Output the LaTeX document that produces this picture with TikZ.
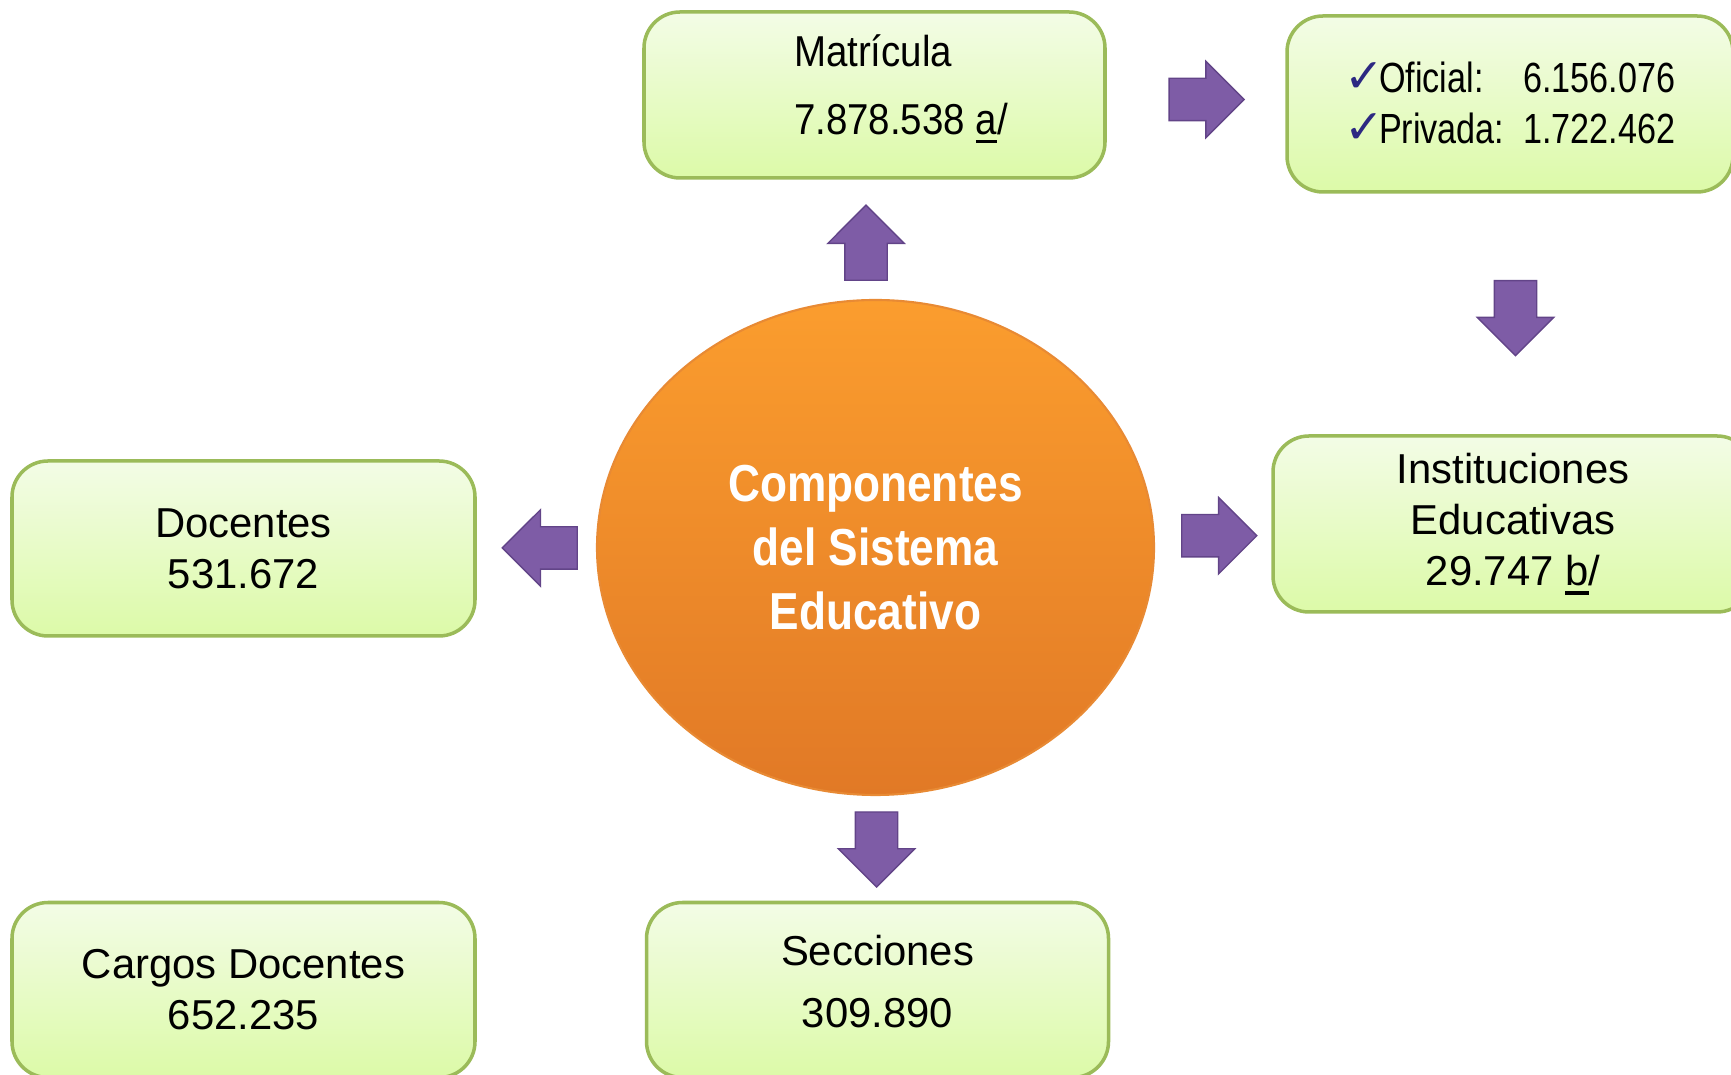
\documentclass[tikz,border=0pt]{standalone}
\usepackage{fontspec}
\setmainfont{Liberation Sans}
\newfontfamily\narrowfont[FakeStretch=0.89]{Liberation Sans}
\newfontfamily\tightfont[FakeStretch=0.81]{Liberation Sans}
\newfontfamily\hubfont[FakeStretch=0.85]{Liberation Sans}
\newfontfamily\checkfont{DejaVu Sans}
\usetikzlibrary{positioning, calc, shapes.geometric, shapes.arrows}
\definecolor{boxedge}{RGB}{155,187,89}
\definecolor{boxtop}{RGB}{243,252,230}
\definecolor{boxbottom}{RGB}{220,250,168}
\definecolor{orangetop}{RGB}{251,157,46}
\definecolor{orangebottom}{RGB}{225,121,38}
\definecolor{orangerim}{RGB}{232,138,52}
\definecolor{arrowpurple}{RGB}{126,92,166}
\definecolor{arrowedge}{RGB}{98,68,136}
\definecolor{checkblue}{RGB}{44,40,130}
\newcommand{\okmark}{{\checkfont\fontsize{13.5}{14}\selectfont\color{checkblue}\char"2713}\kern-1.5pt}
\newcommand{\subrayado}[1]{\setbox0\hbox{#1}\rlap{\rule[-2.6pt]{\wd0}{1.1pt}}#1}

\begin{document}
\begin{tikzpicture}[
  box/.style={draw=boxedge, line width=1pt, rounded corners=3.6mm, top color=boxtop, bottom color=boxbottom,
              align=center, inner sep=0pt, minimum width=4.62cm, minimum height=1.75cm,
              font=\fontsize{11.9}{14.5}\selectfont},
  hub/.style={ellipse, draw=orangerim, line width=0.6pt, top color=orangetop, bottom color=orangebottom,
              text=white, align=center, minimum width=5.57cm, minimum height=4.95cm},
  blockarrow/.style={single arrow, fill=arrowpurple, draw=arrowedge, line width=0.4pt,
              minimum height=7.5mm, minimum width=7.5mm, single arrow head extend=1.7mm,
              single arrow tip angle=90, inner xsep=0pt, inner ysep=2.05mm}
]
\useasboundingbox (0,0) rectangle (17.31,-10.75);

\node[hub, font=\hubfont\bfseries\fontsize{14.8}{18.1}\selectfont] (centro) at (8.755,-5.475)
  {Componentes\\del Sistema\\Educativo};

\node[box, minimum width=4.61cm, minimum height=1.66cm, align=left,
      font=\narrowfont\fontsize{12.3}{19.3}\selectfont] (matricula) at (8.745,-0.95)
  {\hspace*{5.3mm}Matrícula\\\hspace*{5.3mm}7.878.538 \subrayado{a}/\rule[-6pt]{0pt}{6pt}};
\node[box, minimum width=4.46cm, minimum height=1.76cm,
      font=\tightfont\fontsize{12}{14.5}\selectfont] (oficial) at (15.10,-1.04)
  {\begin{tabular}{@{}l@{\hspace{1.9mm}}l@{}}\rule{0pt}{12.2pt}\okmark Oficial: & 6.156.076\\ \okmark Privada: & 1.722.462\end{tabular}};
\node[box, minimum width=4.80cm, minimum height=1.76cm] (inst) at (15.13,-5.24)
  {Instituciones\\Educativas\\29.747 \subrayado{b}/};
\node[box, minimum width=4.63cm] (docentes) at (2.435,-5.485) {Docentes\\531.672};
\node[box, minimum width=4.63cm, below=2.63cm of docentes] (cargos) {Cargos Docentes\\652.235};
\node[box, right=1.68cm of cargos, font=\fontsize{11.9}{17.6}\selectfont] (secciones)
  {Secciones\\309.890\rule[-5.1pt]{0pt}{5.1pt}};

\node[blockarrow, xshift=-0.9mm, yshift=-1.4mm, rotate=90] (arriba) at ($(matricula.south)!0.5!(centro.north)$) {};
\node[blockarrow] (hacia oficial) at ($(matricula.east)!0.5!(oficial.west)$) {};
\node[blockarrow, xshift=0.4mm, yshift=0.65mm, rotate=-90] (hacia inst) at ($(oficial.south)!0.5!(inst.north)$) {};
\node[blockarrow, xshift=-0.45mm] (derecha) at ($(centro.east)!0.5!(inst.west)$) {};
\node[blockarrow, xshift=1.4mm, rotate=180] (izquierda) at ($(docentes.east)!0.5!(centro.west)$) {};
\node[blockarrow, yshift=0.95mm, rotate=-90] (abajo) at ($(centro.south)!0.5!(secciones.north)$) {};
\end{tikzpicture}
\end{document}
